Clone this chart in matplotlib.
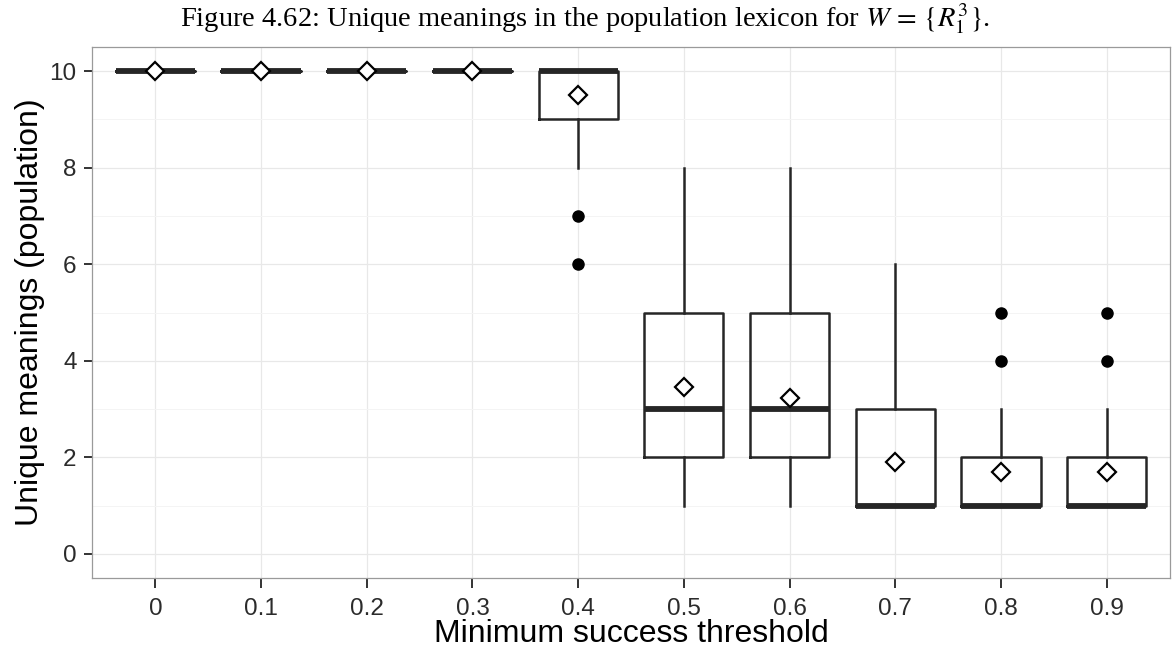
import matplotlib
matplotlib.use("Agg")
import matplotlib.pyplot as plt
from matplotlib.ticker import MultipleLocator

# ---- data ----
categories = ['0', '0.1', '0.2', '0.3', '0.4', '0.5', '0.6', '0.7', '0.8', '0.9']
q1 = [10, 10, 10, 10, 9, 2, 2, 1, 1, 1]
median = [10, 10, 10, 10, 10, 3, 3, 1, 1, 1]
q3 = [10, 10, 10, 10, 10, 5, 5, 3, 2, 2]
whisker_low = [10, 10, 10, 10, 8, 1, 1, 1, 1, 1]
whisker_high = [10, 10, 10, 10, 10, 8, 8, 6, 3, 3]
means = [10, 10, 10, 10, 9.5, 3.45, 3.23, 1.9, 1.7, 1.7]
outliers = [[], [], [], [], [7, 6], [], [], [], [5, 4], [5, 4]]
y_ticks = [0, 2, 4, 6, 8, 10]

title = r"Figure 4.62: Unique meanings in the population lexicon for $W\,=\,\{R_1^3\}$."
xlabel = "Minimum success threshold"
ylabel = "Unique meanings (population)"

plt.rcParams['mathtext.fontset'] = 'stix'
plt.rcParams['font.family'] = ['Liberation Sans', 'DejaVu Sans']

fig = plt.figure(figsize=(11.74, 6.52), dpi=100)
ax = fig.add_axes([92 / 1174, 1 - 578 / 652, (1170 - 92) / 1174, (578 - 47) / 652])

stats = []
for i, c in enumerate(categories):
    stats.append(dict(label=c, q1=q1[i], med=median[i], q3=q3[i],
                      whislo=whisker_low[i], whishi=whisker_high[i],
                      mean=means[i], fliers=outliers[i]))

positions = list(range(len(categories)))
ink = '#262626'
ax.bxp(stats, positions=positions, widths=0.75, showcaps=False, showmeans=True,
       boxprops=dict(color=ink, linewidth=1.8),
       whiskerprops=dict(color=ink, linewidth=1.8),
       medianprops=dict(color=ink, linewidth=4.2, solid_capstyle='butt'),
       flierprops=dict(marker='o', markerfacecolor='black', markeredgecolor='black',
                       markersize=8),
       meanprops=dict(marker='D', markerfacecolor='white', markeredgecolor='black',
                      markersize=9.5, markeredgewidth=1.6, zorder=5))

ax.set_xlim(-0.6, len(categories) - 0.4)
ax.set_ylim(-0.5, 10.5)
ax.set_xticks(positions)
ax.set_xticklabels(categories)
ax.set_yticks(y_ticks)
ax.yaxis.set_minor_locator(MultipleLocator(1))

ax.set_axisbelow(True)
ax.grid(True, which='major', color='#e8e8e8', linewidth=0.9)
ax.grid(True, which='minor', axis='y', color='#f4f4f4', linewidth=0.7)
ax.tick_params(which='minor', length=0)
ax.tick_params(which='major', width=1.4, color='#333333',
               labelsize=17.5, labelcolor='#2b2b2b')
ax.tick_params(axis='x', which='major', length=7.5, pad=7)
ax.tick_params(axis='y', which='major', length=6, pad=5)

for s in ax.spines.values():
    s.set_color('#9a9a9a')
    s.set_linewidth(0.9)

ax.set_xlabel(xlabel, fontsize=23, labelpad=-1)
ax.set_ylabel(ylabel, fontsize=23, labelpad=3)

fig.text(0.498, 0.972, title, ha='center', va='center', fontsize=20.5,
         family=['Liberation Serif', 'DejaVu Serif'])

fig.savefig('out.png', dpi=100, facecolor='white')
